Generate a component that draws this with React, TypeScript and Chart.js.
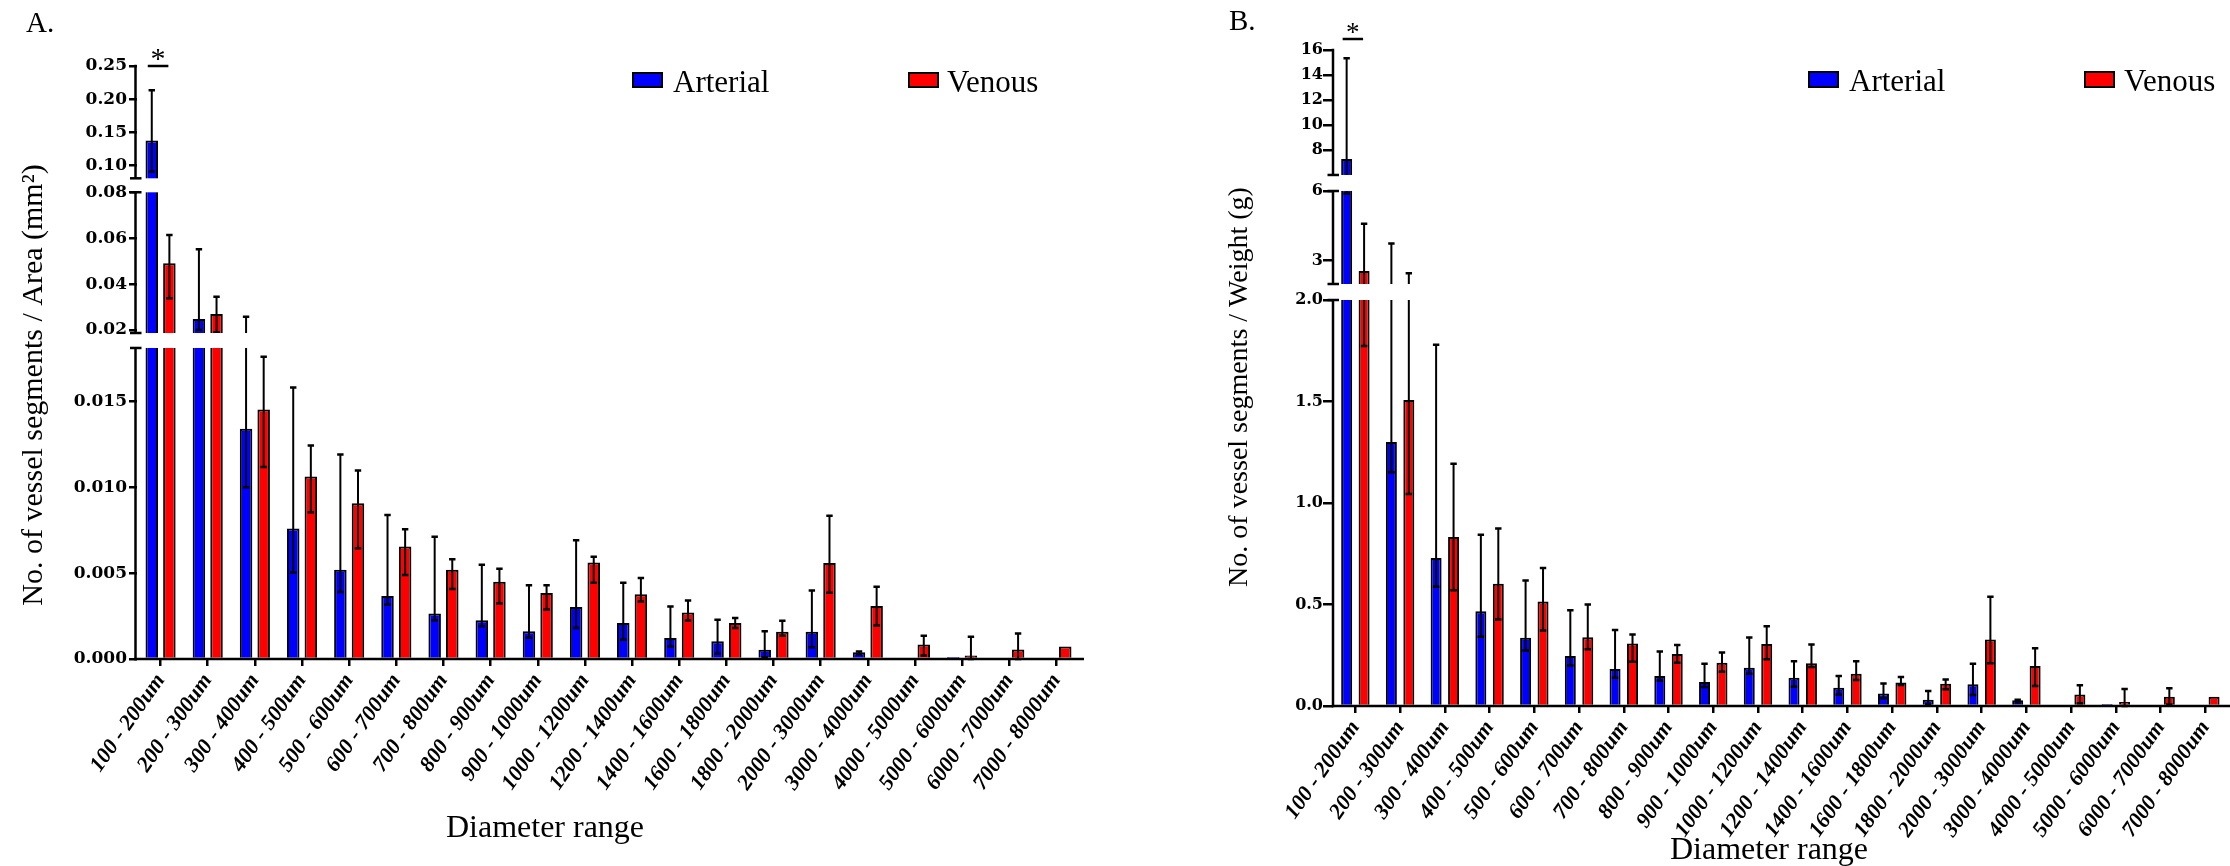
import React, { useEffect, useRef } from 'react';
import { Chart, registerables, LinearScale } from 'chart.js';

Chart.register(...registerables);

// ---------- DATA ----------
const categories = [
  '100 - 200um', '200 - 300um', '300 - 400um', '400 - 500um', '500 - 600um',
  '600 - 700um', '700 - 800um', '800 - 900um', '900 - 1000um', '1000 - 1200um',
  '1200 - 1400um', '1400 - 1600um', '1600 - 1800um', '1800 - 2000um', '2000 - 3000um',
  '3000 - 4000um', '4000 - 5000um', '5000 - 6000um', '6000 - 7000um', '7000 - 8000um',
];

// Panel A: per area (mm^2)
const areaArterial = [0.138, 0.0248, 0.0134, 0.0076, 0.0052, 0.00367, 0.00265, 0.00226, 0.00162, 0.00303, 0.0021, 0.00122, 0.00104, 0.00054, 0.00158, 0.00039, 0.00008, 0.00012, 0, 0];
const areaArterialHi = [0.2135, 0.0552, 0.0258, 0.0158, 0.0119, 0.00838, 0.00711, 0.00548, 0.00429, 0.00691, 0.00444, 0.00305, 0.00228, 0.00162, 0.00398, 0.00044, null, null, null, null];
const areaArterialLo = [0.091, 0.02, 0.01, 0.00504, 0.0039, 0.00317, 0.00226, 0.00191, 0.00124, 0.0018, 0.00112, 0.00073, 0.0003, 0.0001, 0.00068, 0.00027, null, null, null, null];
const areaVenous = [0.0491, 0.027, 0.01452, 0.01062, 0.00906, 0.00655, 0.0052, 0.0045, 0.00384, 0.00562, 0.00377, 0.0027, 0.0021, 0.00158, 0.00558, 0.00309, 0.00085, 0.0002, 0.00056, 0.00073];
const areaVenousHi = [0.0614, 0.0345, 0.01759, 0.01242, 0.01097, 0.00755, 0.00581, 0.00525, 0.00429, 0.00595, 0.00471, 0.0034, 0.00238, 0.00222, 0.00834, 0.00421, 0.00135, 0.00129, 0.00149, null];
const areaVenousLo = [0.0338, 0.019, 0.01118, 0.00854, 0.00645, 0.00489, 0.00407, 0.00323, 0.00288, 0.00444, 0.00334, 0.00224, 0.0018, 0.00135, 0.00386, 0.00195, 0.0002, 0, 0, null];
const areaTicks = [0, 0.005, 0.01, 0.015, 0.02, 0.04, 0.06, 0.08, 0.1, 0.15, 0.2, 0.25];
const areaTickLabels = ['0.000', '0.005', '0.010', '0.015', '0.02', '0.04', '0.06', '0.08', '0.10', '0.15', '0.20', '0.25'];

// Panel B: per weight (g)
const weightArterial = [7.28, 1.3, 0.7295, 0.467, 0.336, 0.246, 0.182, 0.148, 0.118, 0.1885, 0.139, 0.09, 0.061, 0.031, 0.107, 0.028, 0.0066, 0.01, 0, 0];
const weightArterialHi = [15.33, 3.743, 1.78, 0.843, 0.618, 0.472, 0.374, 0.269, 0.208, 0.338, 0.221, 0.148, 0.111, 0.074, 0.208, 0.031, null, null, null, null];
const weightArterialLo = [5.89, 1.151, 0.587, 0.341, 0.274, 0.2, 0.139, 0.126, 0.093, 0.159, 0.095, 0.057, 0.038, 0.008, 0.054, 0.018, null, null, null, null];
const weightVenous = [2.557, 1.508, 0.833, 0.602, 0.515, 0.339, 0.308, 0.256, 0.213, 0.305, 0.211, 0.159, 0.116, 0.11, 0.328, 0.197, 0.057, 0.02, 0.046, 0.046];
const weightVenousHi = [4.586, 2.457, 1.193, 0.874, 0.68, 0.5, 0.352, 0.3, 0.264, 0.393, 0.303, 0.221, 0.143, 0.13, 0.538, 0.285, 0.102, 0.084, 0.087, null];
const weightVenousLo = [1.774, 1.044, 0.57, 0.426, 0.372, 0.28, 0.218, 0.213, 0.169, 0.23, 0.192, 0.128, 0.103, 0.082, 0.21, 0.098, 0.013, 0, 0.007, null];
const weightTicks = [0, 0.5, 1, 1.5, 2, 3, 6, 8, 10, 12, 14, 16];
const weightTickLabels = ['0.0', '0.5', '1.0', '1.5', '2.0', '3', '6', '8', '10', '12', '14', '16'];

// ---------- BROKEN AXIS SEGMENTS (value range -> fraction of axis length) ----------
const segsA = [
  { min: 0, max: 0.0181, from: 0, to: 0.5245 },
  { min: 0.0187, max: 0.08, from: 0.5497, to: 0.787 },
  { min: 0.081, max: 0.25, from: 0.8106, to: 1 },
];
const segsB = [
  { min: 0, max: 2, from: 0, to: 0.6189 },
  { min: 2, max: 6, from: 0.6433, to: 0.7851 },
  { min: 6, max: 16, from: 0.8095, to: 1 },
];

function registerBrokenScale(id: string, segs: any[], tickVals: number[]) {
  const toFrac = (v: number) => {
    for (let k = 0; k < segs.length; k++) {
      const s = segs[k];
      if (v <= s.max || k === segs.length - 1) {
        if (v < s.min) return s.from;
        return s.from + ((v - s.min) / (s.max - s.min)) * (s.to - s.from);
      }
    }
    return 1;
  };
  const fromFrac = (f: number) => {
    for (let k = 0; k < segs.length; k++) {
      const s = segs[k];
      if (f <= s.to || k === segs.length - 1) {
        if (f < s.from) return s.min;
        return s.min + ((f - s.from) / (s.to - s.from)) * (s.max - s.min);
      }
    }
    return segs[segs.length - 1].max;
  };
  class BrokenScale extends (LinearScale as any) {
    static id = id;
    buildTicks() {
      return tickVals.map((value) => ({ value }));
    }
    getPixelForValue(value: number) {
      if (value === null || value === undefined || isNaN(value)) return NaN;
      return (this as any).getPixelForDecimal(toFrac(value));
    }
    getValueForPixel(pixel: number) {
      return fromFrac((this as any).getDecimalForPixel(pixel));
    }
  }
  Chart.register(BrokenScale as any);
}

registerBrokenScale('brokenArea', segsA, areaTicks);
registerBrokenScale('brokenWeight', segsB, weightTicks);

// ---------- PANEL CONFIG ----------
const panelA = {
  scaleId: 'brokenArea', segs: segsA, max: 0.25,
  ticksLabels: areaTickLabels,
  art: areaArterial, artHi: areaArterialHi, artLo: areaArterialLo,
  ven: areaVenous, venHi: areaVenousHi, venLo: areaVenousLo,
  catPct: 0.747, barPct: 0.71,
  yWidth: 137, padRight: 35, padTop: 66, xHeight: 150, padBottom: 57,
  axisX: 135.5, xLineEnd: 1084, yTickFont: 17, yTickLen: 8, yTickPad: 2,
  letter: 'A.', letterX: 26, letterY: 32,
  yTitle: 'No. of vessel segments / Area (mm\u00B2)', yTitleX: 42, yTitleY: 385, yTitleSize: 30,
  xTitleX: 545, xTitleY: 837,
  legend: { boxA: 633, textA: 673, boxV: 909, textV: 947, boxY: 73, boxH: 14, textY: 92 },
  sigLineDy: 0, starSize: 30,
};
const panelB = {
  scaleId: 'brokenWeight', segs: segsB, max: 16,
  ticksLabels: weightTickLabels,
  art: weightArterial, artHi: weightArterialHi, artLo: weightArterialLo,
  ven: weightVenous, venHi: weightVenousHi, venLo: weightVenousLo,
  catPct: 0.78, barPct: 0.63,
  yWidth: 218, padRight: 1, padTop: 50, xHeight: 150, padBottom: 10,
  axisX: 218, xLineEnd: 1115, yTickFont: 16, yTickLen: 10, yTickPad: 0,
  letter: 'B.', letterX: 114, letterY: 30,
  yTitle: 'No. of vessel segments / Weight (g)', yTitleX: 1247 - 1115, yTitleY: 387, yTitleSize: 28,
  xTitleX: 1769 - 1115, xTitleY: 859,
  legend: { boxA: 694, textA: 734, boxV: 970, textV: 1009, boxY: 72, boxH: 15, textY: 91 },
  sigLineDy: -11, starSize: 27,
};

function panelPlugin(p: any) {
  return {
    id: 'panelDecor' + p.scaleId,
    afterDatasetsDraw(chart: any) {
      const ctx = chart.ctx;
      const ys = chart.scales.y;
      const area = chart.chartArea;
      ctx.save();
      ctx.strokeStyle = '#000';
      // error bars
      const sets = [
        { v: p.art, hi: p.artHi, lo: p.artLo },
        { v: p.ven, hi: p.venHi, lo: p.venLo },
      ];
      sets.forEach((s, d) => {
        const meta = chart.getDatasetMeta(d);
        meta.data.forEach((bar: any, i: number) => {
          if (s.hi[i] === null || s.hi[i] === undefined) return;
          const x = bar.x;
          const yh = ys.getPixelForValue(s.hi[i]);
          const yl = ys.getPixelForValue(s.lo[i] !== null && s.lo[i] !== undefined ? s.lo[i] : s.v[i]);
          ctx.lineWidth = 2;
          ctx.beginPath();
          ctx.moveTo(x, yh);
          ctx.lineTo(x, yl);
          ctx.stroke();
          ctx.lineWidth = 2.5;
          ctx.beginPath();
          ctx.moveTo(x - 3.2, yh);
          ctx.lineTo(x + 3.2, yh);
          ctx.moveTo(x - 3.2, yl);
          ctx.lineTo(x + 3.2, yl);
          ctx.stroke();
        });
      });
      // gaps of the broken axis
      ctx.fillStyle = '#fff';
      for (let k = 0; k < p.segs.length - 1; k++) {
        const yTop = ys.getPixelForDecimal(p.segs[k + 1].from);
        const yBot = ys.getPixelForDecimal(p.segs[k].to);
        ctx.fillRect(p.axisX + 1.3, yTop, area.right + 10 - p.axisX, yBot - yTop);
      }
      // y axis segments
      ctx.lineWidth = 2.5;
      p.segs.forEach((s: any, k: number) => {
        const y0 = ys.getPixelForDecimal(s.from);
        const y1 = ys.getPixelForDecimal(s.to);
        ctx.beginPath();
        ctx.moveTo(p.axisX, k === 0 ? y0 + 1.25 : y0);
        ctx.lineTo(p.axisX, k === p.segs.length - 1 ? y1 - 1.25 : y1);
        ctx.stroke();
        ctx.beginPath();
        if (k > 0) {
          ctx.moveTo(p.axisX - 5.5, y0);
          ctx.lineTo(p.axisX + 6, y0);
        }
        if (k < p.segs.length - 1) {
          ctx.moveTo(p.axisX - 5.5, y1);
          ctx.lineTo(p.axisX + 6, y1);
        }
        ctx.stroke();
      });
      // x axis line
      ctx.beginPath();
      ctx.moveTo(p.axisX - 1.25, area.bottom);
      ctx.lineTo(p.xLineEnd, area.bottom);
      ctx.stroke();

      // significance mark on first category
      const b0 = chart.getDatasetMeta(0).data[0];
      const r0 = chart.getDatasetMeta(1).data[0];
      const ly = area.top + p.sigLineDy;
      const lx0 = b0.x - 4;
      const lx1 = r0.x - 1;
      ctx.lineWidth = 2.5;
      ctx.beginPath();
      ctx.moveTo(lx0, ly);
      ctx.lineTo(lx1, ly);
      ctx.stroke();
      ctx.fillStyle = '#000';
      ctx.font = `${p.starSize}px 'Liberation Serif'`;
      ctx.textAlign = 'center';
      ctx.textBaseline = 'alphabetic';
      ctx.fillText('*', (lx0 + lx1) / 2, ly + 2);
      ctx.restore();
    },
    afterDraw(chart: any) {
      const ctx = chart.ctx;
      ctx.save();
      ctx.fillStyle = '#000';
      ctx.textBaseline = 'alphabetic';
      // panel letter
      ctx.font = "29px 'Liberation Serif'";
      ctx.textAlign = 'left';
      ctx.fillText(p.letter, p.letterX, p.letterY);
      // legend
      const L = p.legend;
      ctx.lineWidth = 2;
      ctx.strokeStyle = '#000';
      ctx.fillStyle = '#0000ff';
      ctx.fillRect(L.boxA, L.boxY, 29, L.boxH);
      ctx.strokeRect(L.boxA, L.boxY, 29, L.boxH);
      ctx.fillStyle = '#ff0000';
      ctx.fillRect(L.boxV, L.boxY, 29, L.boxH);
      ctx.strokeRect(L.boxV, L.boxY, 29, L.boxH);
      ctx.fillStyle = '#000';
      ctx.font = "31px 'Liberation Serif'";
      ctx.fillText(chart.data.datasets[0].label, L.textA, L.textY);
      ctx.fillText(chart.data.datasets[1].label, L.textV, L.textY);
      // x title
      ctx.font = "32px 'Liberation Serif'";
      ctx.textAlign = 'center';
      ctx.fillText('Diameter range', p.xTitleX, p.xTitleY);
      // y title
      ctx.save();
      ctx.translate(p.yTitleX, p.yTitleY);
      ctx.rotate(-Math.PI / 2);
      ctx.font = `${p.yTitleSize}px 'Liberation Serif'`;
      ctx.textAlign = 'center';
      ctx.fillText(p.yTitle, 0, 0);
      ctx.restore();
      ctx.restore();
    },
  };
}

function makeChart(canvas: HTMLCanvasElement, p: any) {
  return new Chart(canvas, {
    type: 'bar',
    data: {
      labels: categories,
      datasets: [
        { label: 'Arterial', data: p.art, backgroundColor: '#0000ff', borderColor: '#000', borderWidth: 2, categoryPercentage: p.catPct, barPercentage: p.barPct },
        { label: 'Venous', data: p.ven, backgroundColor: '#ff0000', borderColor: '#000', borderWidth: 2, categoryPercentage: p.catPct, barPercentage: p.barPct },
      ],
    } as any,
    options: {
      responsive: false,
      animation: false,
      devicePixelRatio: 1,
      events: [],
      layout: { padding: { left: 0, right: p.padRight, top: p.padTop, bottom: p.padBottom } },
      plugins: { legend: { display: false }, tooltip: { enabled: false }, title: { display: false } },
      scales: {
        x: {
          type: 'category',
          offset: true,
          grid: { offset: false, drawOnChartArea: false, drawTicks: true, tickLength: 7, lineWidth: 2.5, color: '#000' },
          border: { display: false },
          ticks: {
            color: '#000',
            autoSkip: false,
            minRotation: 55,
            maxRotation: 55,
            padding: 3,
            font: { family: "'Liberation Serif'", size: 22, weight: 'bold', style: 'italic' },
          },
          afterFit: (s: any) => { s.height = p.xHeight; },
        },
        y: {
          type: p.scaleId,
          min: 0,
          max: p.max,
          grid: { drawOnChartArea: false, drawTicks: true, tickLength: p.yTickLen, lineWidth: 2.5, color: '#000' },
          border: { display: false },
          ticks: {
            autoSkip: false,
            color: '#000',
            padding: p.yTickPad,
            font: { family: "'DejaVu Serif'", size: p.yTickFont, weight: 'bold' },
            callback: (_v: any, i: number) => p.ticksLabels[i],
          },
          afterFit: (s: any) => { s.width = p.yWidth; },
        },
      },
    } as any,
    plugins: [panelPlugin(p)],
  });
}

export default function App() {
  const refA = useRef<HTMLCanvasElement>(null);
  const refB = useRef<HTMLCanvasElement>(null);
  useEffect(() => {
    document.body.style.margin = '0';
    const a = makeChart(refA.current as HTMLCanvasElement, panelA);
    const b = makeChart(refB.current as HTMLCanvasElement, panelB);
    return () => {
      a.destroy();
      b.destroy();
    };
  }, []);
  return (
    <div style={{ position: 'relative', width: 2230, height: 866, background: '#fff' }}>
      <canvas ref={refA} width={1115} height={866} style={{ position: 'absolute', left: 0, top: 0 }} />
      <canvas ref={refB} width={1115} height={866} style={{ position: 'absolute', left: 1115, top: 0 }} />
    </div>
  );
}
